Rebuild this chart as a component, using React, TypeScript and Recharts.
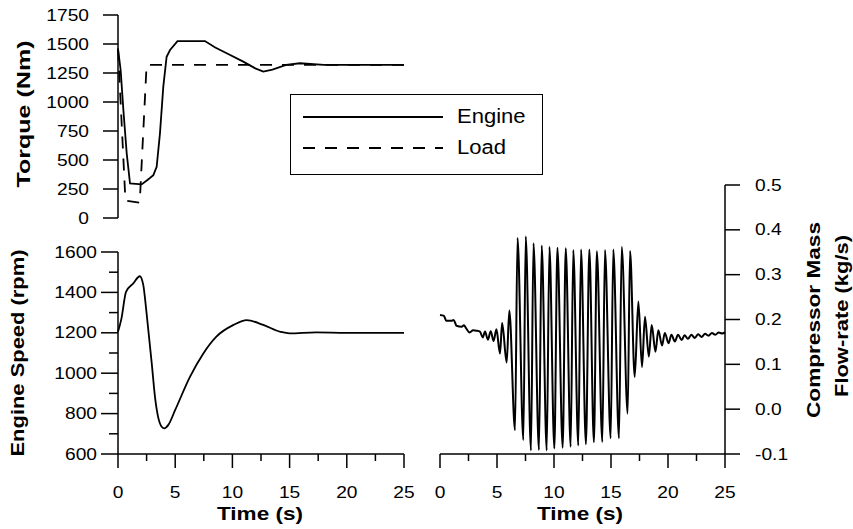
import { LineChart, Line, XAxis, YAxis, Legend } from "recharts"

// time axis, shared by all three panels
const timeTicks = [0, 2.5, 5, 7.5, 10, 12.5, 15, 17.5, 20, 22.5, 25]

// top panel: torque (Nm)
const torqueTicks = [0, 250, 500, 750, 1000, 1250, 1500, 1750]
const engineTime = [0, 0.23, 0.47, 0.76, 1.05, 2.07, 2.6, 3.09, 3.38, 3.67, 3.96, 4.25, 4.55, 5.2, 7.6, 8.5, 9.5, 10.95, 12.0, 12.7, 13.5, 14.7, 15.9, 18, 25]
const engineTorque = [1460, 1276, 931, 558, 299, 290, 330, 370, 442, 732, 1132, 1390, 1448, 1525, 1525, 1470, 1420, 1348, 1290, 1262, 1280, 1320, 1334, 1320, 1320]
const loadTime = [0, 0.65, 1.9, 2.5, 25]
const loadTorque = [1460, 150, 132, 1320, 1320]

// bottom left: engine speed (rpm)
const speedTicks = [600, 700, 800, 900, 1000, 1100, 1200, 1300, 1400, 1500, 1600]
const speedTime = [0, 0.3, 0.7, 1.34, 1.9, 2.2, 2.5, 2.95, 3.23, 3.5, 3.82, 4.05, 4.4, 5.0, 6.3, 7.46, 8.6, 10.1, 11.25, 12.7, 14.2, 15.0, 17.3, 20, 25]
const engineSpeed = [1205, 1270, 1403, 1445, 1480, 1440, 1296, 1049, 884, 785, 735, 727, 744, 818, 983, 1098, 1181, 1239, 1263, 1239, 1205, 1197, 1202, 1200, 1200]

// bottom right: compressor mass flow-rate (kg/s)
const flowTicks = [-0.1, 0, 0.1, 0.2, 0.3, 0.4, 0.5]
const flowTime = [
  0, 0.35, 0.55, 1.0, 1.2, 1.45, 1.9, 2.1, 2.3, 2.6, 2.9, 3.2, 3.5, 3.75, 3.95, 4.2, 4.45, 4.7, 4.95,
  5.26, 5.45, 5.85, 6.08, 6.58, 6.8, 7.31, 7.52, 7.98, 8.2, 8.68, 8.92, 9.36, 9.6, 10.03, 10.3,
  10.76, 11.03, 11.46, 11.69, 12.13, 12.37, 12.8, 13.1, 13.5, 13.76, 14.24, 14.47, 14.97, 15.2,
  15.7, 15.94, 16.46, 16.67, 17.08, 17.4, 17.72, 17.98, 18.32, 18.57, 18.9, 19.15, 19.48, 19.72,
  20.05, 20.3, 20.6, 20.88, 21.2, 21.45, 21.75, 22.05, 22.35, 22.65, 22.95, 23.25, 23.55, 23.85,
  24.15, 24.45, 24.75, 25,
]
const flowRate = [
  0.21, 0.208, 0.197, 0.197, 0.199, 0.186, 0.184, 0.187, 0.18, 0.171, 0.176, 0.175, 0.173, 0.16, 0.173, 0.155, 0.174, 0.152, 0.178,
  0.124, 0.192, 0.104, 0.22, -0.047, 0.382, -0.069, 0.385, -0.092, 0.37, -0.091, 0.365, -0.092, 0.362, -0.088, 0.36,
  -0.086, 0.359, -0.084, 0.355, -0.081, 0.356, -0.078, 0.356, -0.074, 0.352, -0.073, 0.355, -0.065, 0.356,
  -0.065, 0.362, -0.01, 0.353, 0.072, 0.24, 0.094, 0.206, 0.117, 0.188, 0.128, 0.176, 0.142, 0.17,
  0.147, 0.166, 0.151, 0.166, 0.154, 0.165, 0.157, 0.166, 0.159, 0.167, 0.161, 0.168, 0.164, 0.17,
  0.166, 0.171, 0.169, 0.171,
]

const rows = (xs: number[], ys: number[]) => xs.map((t, i) => ({ t, v: ys[i] }))

const W = 853
const H = 529
const FONT = "Liberation Sans, Arial, sans-serif"
const STRETCH = 1.13 // the source figure is a little wider than Arial
const ink = "#000"
const axisStyle = { stroke: ink, strokeWidth: 1.5 }

function TickText({ x, y, anchor, children }: any) {
  return (
    <text
      transform={`translate(${x} ${y}) scale(${STRETCH} 1)`}
      textAnchor={anchor}
      dominantBaseline="central"
      fontFamily={FONT}
      fontSize={17}
    >
      {children}
    </text>
  )
}

function TimeTick({ x, y, payload }: any) {
  const major = payload.value % 5 === 0
  return (
    <g>
      <line x1={x} y1={y} x2={x} y2={y + (major ? 14 : 7)} stroke={ink} strokeWidth={1.5} />
      {major && <TickText x={x} y={y + 38} anchor="middle">{payload.value}</TickText>}
    </g>
  )
}

function TorqueTick({ x, y, payload }: any) {
  return (
    <g>
      <line x1={x - 15} y1={y} x2={x} y2={y} stroke={ink} strokeWidth={1.5} />
      <TickText x={x - 29} y={y} anchor="end">{payload.value}</TickText>
    </g>
  )
}

function SpeedTick({ x, y, payload }: any) {
  const major = (payload.value - 600) % 200 === 0
  return (
    <g>
      <line x1={x - (major ? 17 : 9)} y1={y} x2={x} y2={y} stroke={ink} strokeWidth={1.5} />
      {major && <TickText x={x - 21} y={y} anchor="end">{payload.value}</TickText>}
    </g>
  )
}

function FlowTick({ x, y, payload }: any) {
  return (
    <g>
      <line x1={x} y1={y} x2={x + 15} y2={y} stroke={ink} strokeWidth={1.5} />
      <TickText x={x + 30} y={y} anchor="start">{payload.value.toFixed(1)}</TickText>
    </g>
  )
}

// axis titles; lines = [text, centre x, centre y, length]
function Title({ lines, rotate }: any) {
  return (
    <g>
      {lines.map(([text, cx, cy, len]: any) => (
        <text
          key={text}
          x={cx}
          y={cy}
          transform={rotate ? `rotate(-90 ${cx} ${cy})` : undefined}
          textAnchor="middle"
          dominantBaseline="central"
          fontFamily={FONT}
          fontWeight="bold"
          fontSize={19}
          textLength={len}
          lengthAdjust="spacingAndGlyphs"
        >
          {text}
        </text>
      ))}
    </g>
  )
}

function LegendBox({ payload }: any) {
  return (
    <div style={{ position: "relative", width: 253, height: 81, border: "1.5px solid #000", boxSizing: "border-box", background: "#fff" }}>
      {(payload || []).map((entry: any, i: number) => {
        const top = i === 0 ? 22 : 53
        return (
          <div key={entry.value}>
            <svg width={140} height={6} style={{ position: "absolute", left: 12, top: top - 3 }}>
              <line x1={0} y1={3} x2={140} y2={3} stroke={ink} strokeWidth={1.8} strokeDasharray={entry.payload?.strokeDasharray} />
            </svg>
            <span
              style={{
                position: "absolute",
                left: 166,
                top: top,
                transform: `translateY(-50%) scaleX(${STRETCH})`,
                transformOrigin: "left center",
                fontFamily: FONT,
                fontSize: 19.5,
                lineHeight: 1,
              }}
            >
              {entry.value}
            </span>
          </div>
        )
      })}
    </div>
  )
}

const layer = { position: "absolute" as const, left: 0, top: 0 }

export default function App() {
  return (
    <div style={{ position: "absolute", left: 0, top: 0, width: W, height: H, background: "#fff" }}>
      <LineChart width={W} height={H} style={layer} margin={{ top: 15, right: 449, bottom: 311, left: 58 }}>
        <XAxis dataKey="t" type="number" domain={[0, 25]} hide />
        <YAxis
          type="number"
          domain={[0, 1750]}
          ticks={torqueTicks}
          interval={0}
          width={60}
          tickSize={0}
          tickMargin={0}
          tickLine={false}
          axisLine={axisStyle}
          tick={<TorqueTick />}
          label={<Title lines={[["Torque (Nm)", 23, 114, 147]]} rotate />}
        />
        <Legend
          layout="horizontal"
          verticalAlign="middle"
          align="center"
          content={<LegendBox />}
          wrapperStyle={{ left: 290, top: 94, width: 253, height: 81 }}
        />
        <Line data={rows(engineTime, engineTorque)} dataKey="v" name="Engine" type="linear" stroke={ink} strokeWidth={1.8} dot={false} isAnimationActive={false} />
        <Line data={rows(loadTime, loadTorque)} dataKey="v" name="Load" type="linear" stroke={ink} strokeWidth={1.8} strokeDasharray="12 10" dot={false} isAnimationActive={false} />
      </LineChart>

      <LineChart width={W} height={H} style={layer} margin={{ top: 252, right: 449, bottom: 15, left: 58 }}>
        <XAxis
          dataKey="t"
          type="number"
          domain={[0, 25]}
          ticks={timeTicks}
          interval={0}
          height={60}
          tickSize={0}
          tickMargin={0}
          tickLine={false}
          axisLine={axisStyle}
          tick={<TimeTick />}
          label={<Title lines={[["Time (s)", 260, 513, 86]]} />}
        />
        <YAxis
          type="number"
          domain={[600, 1600]}
          ticks={speedTicks}
          interval={0}
          width={60}
          tickSize={0}
          tickMargin={0}
          tickLine={false}
          axisLine={axisStyle}
          tick={<SpeedTick />}
          label={<Title lines={[["Engine Speed (rpm)", 17, 353, 207]]} rotate />}
        />
        <Line data={rows(speedTime, engineSpeed)} dataKey="v" type="monotone" stroke={ink} strokeWidth={1.8} dot={false} isAnimationActive={false} />
      </LineChart>

      <LineChart width={W} height={H} style={layer} margin={{ top: 185, right: 68, bottom: 15, left: 440 }}>
        <XAxis
          dataKey="t"
          type="number"
          domain={[0, 25]}
          ticks={timeTicks}
          interval={0}
          height={60}
          tickSize={0}
          tickMargin={0}
          tickLine={false}
          axisLine={axisStyle}
          tick={<TimeTick />}
          label={<Title lines={[["Time (s)", 580, 513, 86]]} />}
        />
        <YAxis
          orientation="right"
          type="number"
          domain={[-0.1, 0.5]}
          ticks={flowTicks}
          interval={0}
          width={60}
          tickSize={0}
          tickMargin={0}
          tickLine={false}
          axisLine={axisStyle}
          tick={<FlowTick />}
          label={<Title lines={[["Compressor Mass", 813, 320, 196], ["Flow-rate (kg/s)", 841, 316, 162]]} rotate />}
        />
        <Line data={rows(flowTime, flowRate)} dataKey="v" type="monotone" stroke={ink} strokeWidth={2} dot={false} isAnimationActive={false} />
      </LineChart>
    </div>
  )
}
